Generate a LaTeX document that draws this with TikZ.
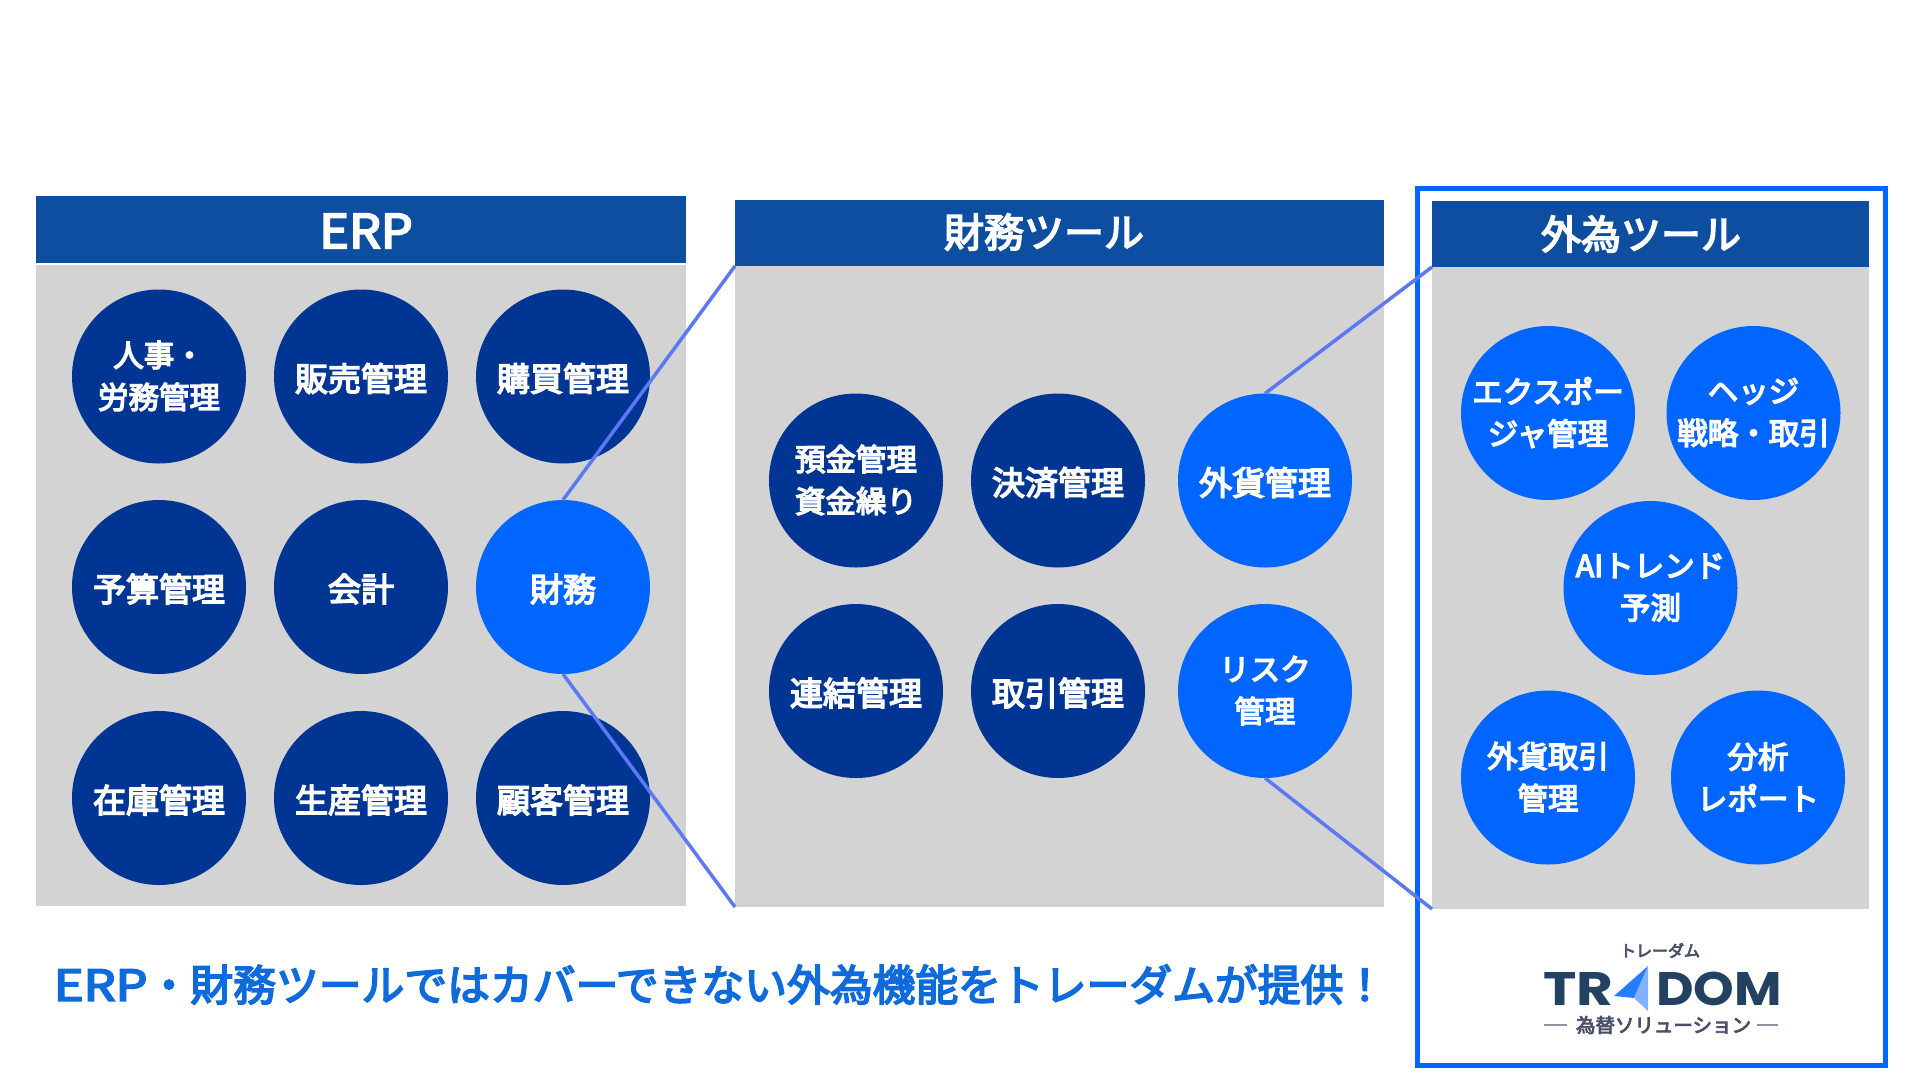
\documentclass[tikz,border=0pt]{standalone}
\usepackage{fontspec}
\usepackage{graphicx}
\setmainfont{Noto Sans CJK JP}
\newfontfamily\medfont{Noto Sans CJK JP}[FakeBold=4.5]
\newfontfamily\headfont{Noto Sans CJK JP}[FakeBold=4]
\newfontfamily\capfont{Noto Sans CJK JP}[FakeBold=4]
\newfontfamily\logofont{Poppins}
\definecolor{headblue}{HTML}{0D4EA0}
\definecolor{darkball}{HTML}{003594}
\definecolor{brightball}{HTML}{0066FF}
\definecolor{panelgray}{HTML}{D3D3D3}
\definecolor{linkblue}{HTML}{5B78F5}
\definecolor{captionblue}{HTML}{0F6BDC}
\definecolor{logonavy}{HTML}{234261}
\definecolor{logotext}{HTML}{4A5068}
\definecolor{logorule}{HTML}{8A94A0}
\tikzset{
  panel/.style={rectangle,anchor=north west,inner sep=0pt,outer sep=0pt,fill=panelgray},
  headbox/.style={rectangle,anchor=north west,inner sep=0pt,outer sep=0pt,fill=headblue},
  headtext/.style={text=white,inner sep=0pt,font=\fontsize{40}{44}\selectfont\headfont},
  balltext/.style={text=white,align=center,inner sep=0pt,yshift=-2pt,
    font=\fontsize{33}{42}\selectfont\medfont},
  balltwo/.style={text=white,align=center,inner sep=0pt,yshift=0.5pt,
    font=\fontsize{30.5}{42}\selectfont\medfont},
  ball/.style={circle,inner sep=0pt,outer sep=0pt,minimum size=174pt},
  dball/.style={ball,fill=darkball},
  bball/.style={ball,fill=brightball},
  link/.style={draw=linkblue,line width=3.5pt},
}
\newcommand{\Ball}[5]{\node[#1,label={[balltext]center:{#5}}] (#2) at (#3,#4) {};}
\newcommand{\BallTwo}[5]{\node[#1,label={[balltwo]center:{#5}}] (#2) at (#3,#4) {};}
\begin{document}
\begin{tikzpicture}[x=1pt,y=-1pt]
\useasboundingbox (0,0) rectangle (1920,1080);
% ERP
\node[panel,minimum width=650pt,minimum height=641pt] (erpbody) at (36,265) {};
\node[headbox,minimum width=650pt,minimum height=67pt] (erphead) at (36,196) {};
\node[headtext,font=\fontsize{47}{50}\selectfont\headfont] (erptitle) at (366,231) {\scalebox{1.07}[1]{ERP}};
\BallTwo{dball}{e1}{159}{376.5}{人事・\\労務管理}
\Ball{dball}{e2}{361}{376.5}{販売管理}
\Ball{dball}{e3}{563}{376.5}{購買管理}
\Ball{dball}{e4}{159}{587}{予算管理}
\Ball{dball}{e5}{361}{587}{会計}
\Ball{bball}{e6}{563}{587}{財務}
\Ball{dball}{e7}{159}{798}{在庫管理}
\Ball{dball}{e8}{361}{798}{生産管理}
\Ball{dball}{e9}{563}{798}{顧客管理}
% Finance
\node[panel,minimum width=649pt,minimum height=641pt] (finbody) at (735,266) {};
\node[headbox,minimum width=649pt,minimum height=66pt] (finhead) at (735,200) {};
\node[headtext] (fintitle) at (1044,232) {財務ツール};
\BallTwo{dball}{f1}{856}{480.5}{預金管理\\資金繰り}
\Ball{dball}{f2}{1058}{480.5}{決済管理}
\Ball{bball}{f3}{1265}{480.5}{外貨管理}
\Ball{dball}{f4}{856}{691}{連結管理}
\Ball{dball}{f5}{1058}{691}{取引管理}
\BallTwo{bball}{f6}{1265}{691}{リスク\\管理}
% FX
\node[panel,minimum width=437pt,minimum height=642pt] (fxbody) at (1432,267) {};
\node[headbox,minimum width=437pt,minimum height=66pt] (fxhead) at (1432,201) {};
\node[headtext] (fxtitle) at (1641,234) {外為ツール};
\BallTwo{bball}{x1}{1548}{413}{エクスポー\\ジャ管理}
\BallTwo{bball}{x2}{1753.500}{413}{ヘッジ\\戦略・取引}
\BallTwo{bball}{x3}{1650.500}{588}{AIトレンド\\予測}
\BallTwo{bball}{x4}{1548}{777.500}{外貨取引\\管理}
\BallTwo{bball}{x5}{1758}{777.500}{分析\\レポート}
% frame
\node[rectangle,draw=brightball,line width=5pt,inner sep=0pt,outer sep=0pt,anchor=north west,
  minimum width=468pt,minimum height=877pt] (frame) at (1417.500,188.500) {};
% connectors
\draw[link] (e6.north) -- (finbody.north west);
\draw[link] (e6.south) -- (finbody.south west);
\draw[link] (f3.north) -- (fxbody.north west);
\draw[link] (f6.south) -- (fxbody.south west);
% caption
\node[text=captionblue,inner sep=0pt,font=\fontsize{42.8}{48}\selectfont\capfont] (caption) at (720,984.500)
  {\scalebox{1.18}[1]{ERP}・財務ツールではカバーできない外為機能をトレーダムが提供！};
% logo
\node[text=logotext,inner sep=0pt,font=\fontsize{16}{18}\selectfont\medfont] (logokana) at (1660,950.5) {トレーダム};
\node[text=logonavy,inner sep=0pt,anchor=base west,xscale=1.2,font=\fontsize{47}{50}\selectfont\logofont\bfseries] (logotr) at (1543,1005) {TR};
\node[text=logonavy,inner sep=0pt,anchor=base west,xscale=1.1,font=\fontsize{47}{50}\selectfont\logofont\bfseries] (logodom) at (1656,1005) {DOM};
\coordinate (tipL) at (1614,996);
\coordinate (tipT) at (1648,966);
\coordinate (tipI) at (1634,998);
\coordinate (tipB) at (1648,1011);
\fill[fill=brightball!85!white] (tipL) -- (tipT) -- (tipI) -- cycle;
\fill[fill=brightball!50!white] (tipT) -- (tipI) -- (tipB) -- cycle;
\node[text=logotext,inner sep=0pt,font=\fontsize{19.5}{22}\selectfont\capfont] (logosub) at (1663.500,1025) {為替ソリューション};
\coordinate (ruleA) at (1544,1025);
\coordinate (ruleB) at (1567,1025);
\coordinate (ruleC) at (1757,1025);
\coordinate (ruleD) at (1778,1025);
\draw[logorule,line width=1.200pt] (ruleA) -- (ruleB);
\draw[logorule,line width=1.200pt] (ruleC) -- (ruleD);
\end{tikzpicture}
\end{document}
